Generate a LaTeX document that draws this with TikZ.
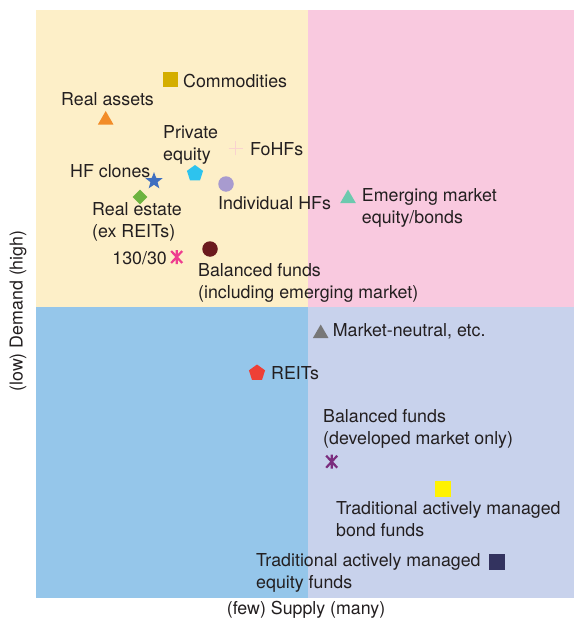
\documentclass[tikz,border=0pt]{standalone}
\usepackage{fontspec}
\setmainfont{TeX Gyre Heros}
\usetikzlibrary{shapes.geometric}
\definecolor{qyellow}{HTML}{FDEFC8}
\definecolor{qpink}{HTML}{F9C9DF}
\definecolor{qblue}{HTML}{95C6EA}
\definecolor{qlav}{HTML}{C8D2EC}
\definecolor{txt}{HTML}{231F20}
\definecolor{cgold}{HTML}{D4AE00}
\definecolor{corange}{HTML}{F28C28}
\definecolor{cplus}{HTML}{F9D3CF}
\definecolor{cstar}{HTML}{3F6FC0}
\definecolor{ccyan}{HTML}{2DC3EE}
\definecolor{clav}{HTML}{A89BCF}
\definecolor{cgreen}{HTML}{6DB33F}
\definecolor{cpinkast}{HTML}{EE3D8F}
\definecolor{cdred}{HTML}{6B1A1E}
\definecolor{cteal}{HTML}{6CC9AE}
\definecolor{cgray}{HTML}{777777}
\definecolor{cred}{HTML}{EE4036}
\definecolor{cpurple}{HTML}{7B2D7E}
\definecolor{cyel}{HTML}{FFF200}
\definecolor{cnavy}{HTML}{33335F}
\tikzset{
  lbl/.style={inner sep=0pt, anchor=west, align=left, text=txt,
    font=\fontsize{17.8}{22}\selectfont},
  sqm/.style={rectangle, inner sep=0pt, minimum size=15pt, fill=#1},
  trim/.style={regular polygon, regular polygon sides=3, inner sep=0pt, minimum size=18pt, fill=#1},
  pentm/.style={regular polygon, regular polygon sides=5, inner sep=0pt, minimum size=17pt, fill=#1},
  circm/.style={circle, inner sep=0pt, minimum size=15.5pt, fill=#1},
  diam/.style={diamond, inner sep=0pt, minimum size=15pt, fill=#1},
  starm/.style={star, star points=5, star point ratio=2.4, inner sep=0pt, minimum size=18pt, fill=#1},
  astm/.style={draw=#1, line width=2.2pt},
}
\begin{document}
\begin{tikzpicture}[x=1pt,y=-1pt]
\useasboundingbox (0,0) rectangle (574,623);
% quadrants
\fill[qyellow] (36,10) rectangle (308,307);
\fill[qpink] (308,10) rectangle (574,307);
\fill[qblue] (36,307) rectangle (308,598);
\fill[qlav] (308,307) rectangle (574,598);
% axis labels
\node[inner sep=0pt, text=txt, font=\fontsize{17.8}{22}\selectfont] (xlab) at (306,610) {(few) Supply (many)};
\node[inner sep=0pt, text=txt, font=\fontsize{17.8}{22}\selectfont, rotate=90] (ylab) at (18,311) {(low) Demand (high)};
% Commodities
\node[sqm=cgold] (m1) at (170,80) {};
\node[lbl] (t1) at (183,81) {Commodities};
% Real assets
\node[trim=corange] (m2) at (105.7,120) {};
\node[lbl] (t2) at (61,99) {Real assets};
% Private equity
\node[lbl] (t3) at (163,144.5) {Private\\equity};
\node[pentm=ccyan] (m3) at (195,173.5) {};
% FoHFs
\coordinate (m4) at (235.7,148.3);
\draw[cplus, line width=1.5pt] ([xshift=-7pt]m4) -- ([xshift=7pt]m4) ([yshift=-7pt]m4) -- ([yshift=7pt]m4);
\node[lbl] (t4) at (250,149) {FoHFs};
% HF clones
\node[lbl] (t5) at (70,171.5) {HF clones};
\node[starm=cstar] (m5) at (154,181) {};
% Individual HFs
\node[circm=clav] (m6) at (226,184) {};
\node[lbl] (t6) at (218,203.5) {Individual HFs};
% Real estate
\node[diam=cgreen] (m7) at (140,197) {};
\node[lbl] (t7) at (92,222) {Real estate\\(ex REITs)};
% 130/30
\node[lbl, anchor=east] (t8) at (167,258) {130/30};
\coordinate (m8) at (176.7,257);
\draw[astm=cpinkast] ([yshift=-7pt]m8) -- ([yshift=7pt]m8)
  ([shift={(-5.5pt,-6pt)}]m8) -- ([shift={(5.5pt,6pt)}]m8)
  ([shift={(5.5pt,-6pt)}]m8) -- ([shift={(-5.5pt,6pt)}]m8);
% Balanced funds (em)
\node[circm=cdred] (m9) at (210,249) {};
\node[lbl] (t9) at (198,282.5) {Balanced funds\\(including emerging market)};
% Emerging market
\node[trim=cteal] (m10) at (348,198.5) {};
\node[lbl] (t10) at (361.7,207.5) {Emerging market\\equity/bonds};
% Market-neutral
\node[trim=cgray] (m11) at (320.7,333.5) {};
\node[lbl] (t11) at (332.7,331.5) {Market-neutral, etc.};
% REITs
\node[pentm=cred] (m12) at (257,373) {};
\node[lbl] (t12) at (271,373) {REITs};
% Balanced developed
\node[lbl] (t13) at (323,428.5) {Balanced funds\\(developed market only)};
\coordinate (m13) at (331.7,461.7);
\draw[astm=cpurple] ([yshift=-7pt]m13) -- ([yshift=7pt]m13)
  ([shift={(-5.5pt,-6pt)}]m13) -- ([shift={(5.5pt,6pt)}]m13)
  ([shift={(5.5pt,-6pt)}]m13) -- ([shift={(-5.5pt,6pt)}]m13);
% Bond funds
\node[sqm=cyel, minimum size=16pt] (m14) at (443.3,489.3) {};
\node[lbl] (t14) at (336,519.5) {Traditional actively managed\\bond funds};
% Equity funds
\node[sqm=cnavy, minimum size=16pt] (m15) at (496.7,561.7) {};
\node[lbl] (t15) at (256,572.5) {Traditional actively managed\\equity funds};
\end{tikzpicture}
\end{document}
